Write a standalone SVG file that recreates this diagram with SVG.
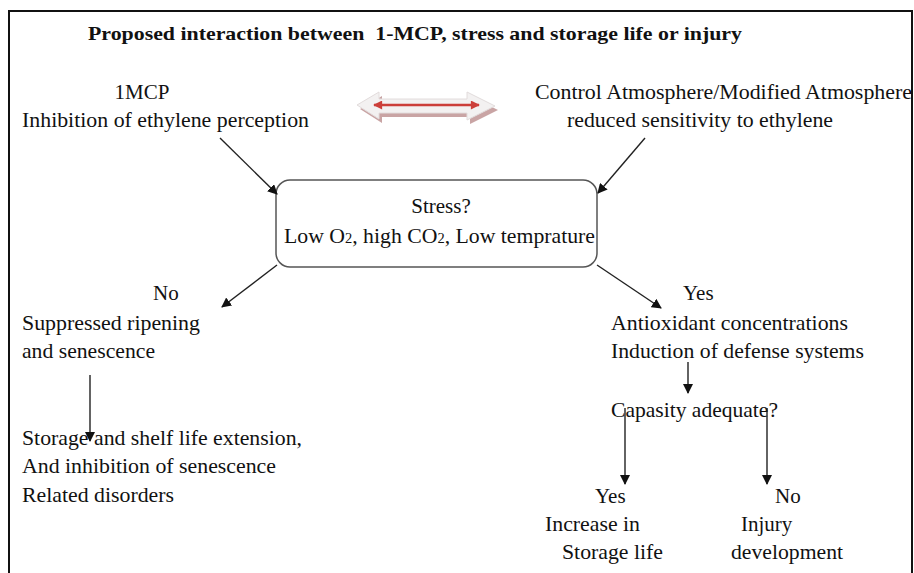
<svg xmlns="http://www.w3.org/2000/svg" width="914" height="573" viewBox="0 0 914 573" font-family="Liberation Serif, Times New Roman, DejaVu Serif, serif">
<style>
text{font-size:21px;fill:#111}
.title{font-weight:bold;font-size:19px}
.c{stroke:#222;stroke-width:1.4;fill:none}
</style>
<defs>
<marker id="ah" viewBox="0 0 10 10" refX="9" refY="5" markerWidth="10" markerHeight="10" markerUnits="userSpaceOnUse" orient="auto">
<path d="M0,0 L10,5 L0,10 Z" fill="#111"/>
</marker>
<marker id="rh" viewBox="0 0 10 10" refX="9" refY="5" markerWidth="11" markerHeight="9" markerUnits="userSpaceOnUse" orient="auto-start-reverse">
<path d="M0,0 L10,5 L0,10 Z" fill="#cc3f3a"/>
</marker>
</defs>
<rect width="914" height="573" fill="#fff"/>
<path d="M9,573 V11 H912 V573" fill="none" stroke="#111" stroke-width="2"/>
<text class="title" x="88" y="40" textLength="654" lengthAdjust="spacingAndGlyphs" xml:space="preserve">Proposed interaction between  1-MCP, stress and storage life or injury</text>

<g id="mcp">
<text x="142" y="99" text-anchor="middle">1MCP</text>
<text x="22" y="127" textLength="287" lengthAdjust="spacingAndGlyphs">Inhibition of ethylene perception</text>
</g>
<g id="ca">
<text x="535" y="99" textLength="377" lengthAdjust="spacingAndGlyphs">Control Atmosphere/Modified Atmosphere</text>
<text x="567" y="127" textLength="266" lengthAdjust="spacingAndGlyphs">reduced sensitivity to ethylene</text>
</g>
<g id="double-arrow">
<polygon points="360,109 382,96 382,103 470,103 470,96 498,110 470,124 470,117 382,117 382,123" fill="#c09494" opacity="0.85"/>
<polygon points="357,105 379,92 379,99 467,99 467,92 495,106 467,120 467,113 379,113 379,119" fill="#f3f1f1" stroke="#e2dcdc" stroke-width="1"/>
<line x1="374" y1="105" x2="479" y2="105" stroke="#cc3f3a" stroke-width="2.5" marker-start="url(#rh)" marker-end="url(#rh)"/>
</g>
<g id="stress">
<rect x="276" y="180" width="321" height="87" rx="14" fill="#fff" stroke="#555" stroke-width="1.5"/>
<text x="441" y="213" text-anchor="middle">Stress?</text>
<text x="284" y="243" textLength="311" lengthAdjust="spacingAndGlyphs">Low O<tspan font-size="14">2</tspan>, high CO<tspan font-size="14">2</tspan>, Low temprature</text>
</g>
<g id="no-branch">
<text x="153" y="300">No</text>
<text x="22" y="330" textLength="178" lengthAdjust="spacingAndGlyphs">Suppressed ripening</text>
<text x="22" y="358" textLength="133" lengthAdjust="spacingAndGlyphs">and senescence</text>
</g>
<g id="storage-ext">
<text x="22" y="445" textLength="280" lengthAdjust="spacingAndGlyphs">Storage and shelf life extension,</text>
<text x="22" y="473" textLength="254" lengthAdjust="spacingAndGlyphs">And inhibition of senescence</text>
<text x="22" y="502" textLength="152" lengthAdjust="spacingAndGlyphs">Related disorders</text>
</g>
<g id="yes-branch">
<text x="683" y="300">Yes</text>
<text x="611" y="330" textLength="237" lengthAdjust="spacingAndGlyphs">Antioxidant concentrations</text>
<text x="611" y="358" textLength="253" lengthAdjust="spacingAndGlyphs">Induction of defense systems</text>
</g>
<g id="capacity">
<text x="611" y="417" textLength="167" lengthAdjust="spacingAndGlyphs">Capasity adequate?</text>
</g>
<g id="increase">
<text x="595" y="503">Yes</text>
<text x="545" y="531" textLength="95" lengthAdjust="spacingAndGlyphs">Increase in</text>
<text x="562" y="559" textLength="101" lengthAdjust="spacingAndGlyphs">Storage life</text>
</g>
<g id="injury">
<text x="775" y="503">No</text>
<text x="741" y="531">Injury</text>
<text x="731" y="559" textLength="112" lengthAdjust="spacingAndGlyphs">development</text>
</g>
<g id="connectors">
<line class="c" x1="220" y1="138" x2="277" y2="194" marker-end="url(#ah)"/>
<line class="c" x1="645" y1="138" x2="598" y2="193" marker-end="url(#ah)"/>
<line class="c" x1="277" y1="265" x2="222" y2="307" marker-end="url(#ah)"/>
<line class="c" x1="597" y1="265" x2="661" y2="308" marker-end="url(#ah)"/>
<line class="c" x1="90" y1="375" x2="90" y2="441" marker-end="url(#ah)"/>
<line class="c" x1="688" y1="362" x2="688" y2="393" marker-end="url(#ah)"/>
<line class="c" x1="625" y1="408" x2="625" y2="484" marker-end="url(#ah)"/>
<line class="c" x1="767" y1="408" x2="767" y2="484" marker-end="url(#ah)"/>
</g>
</svg>
